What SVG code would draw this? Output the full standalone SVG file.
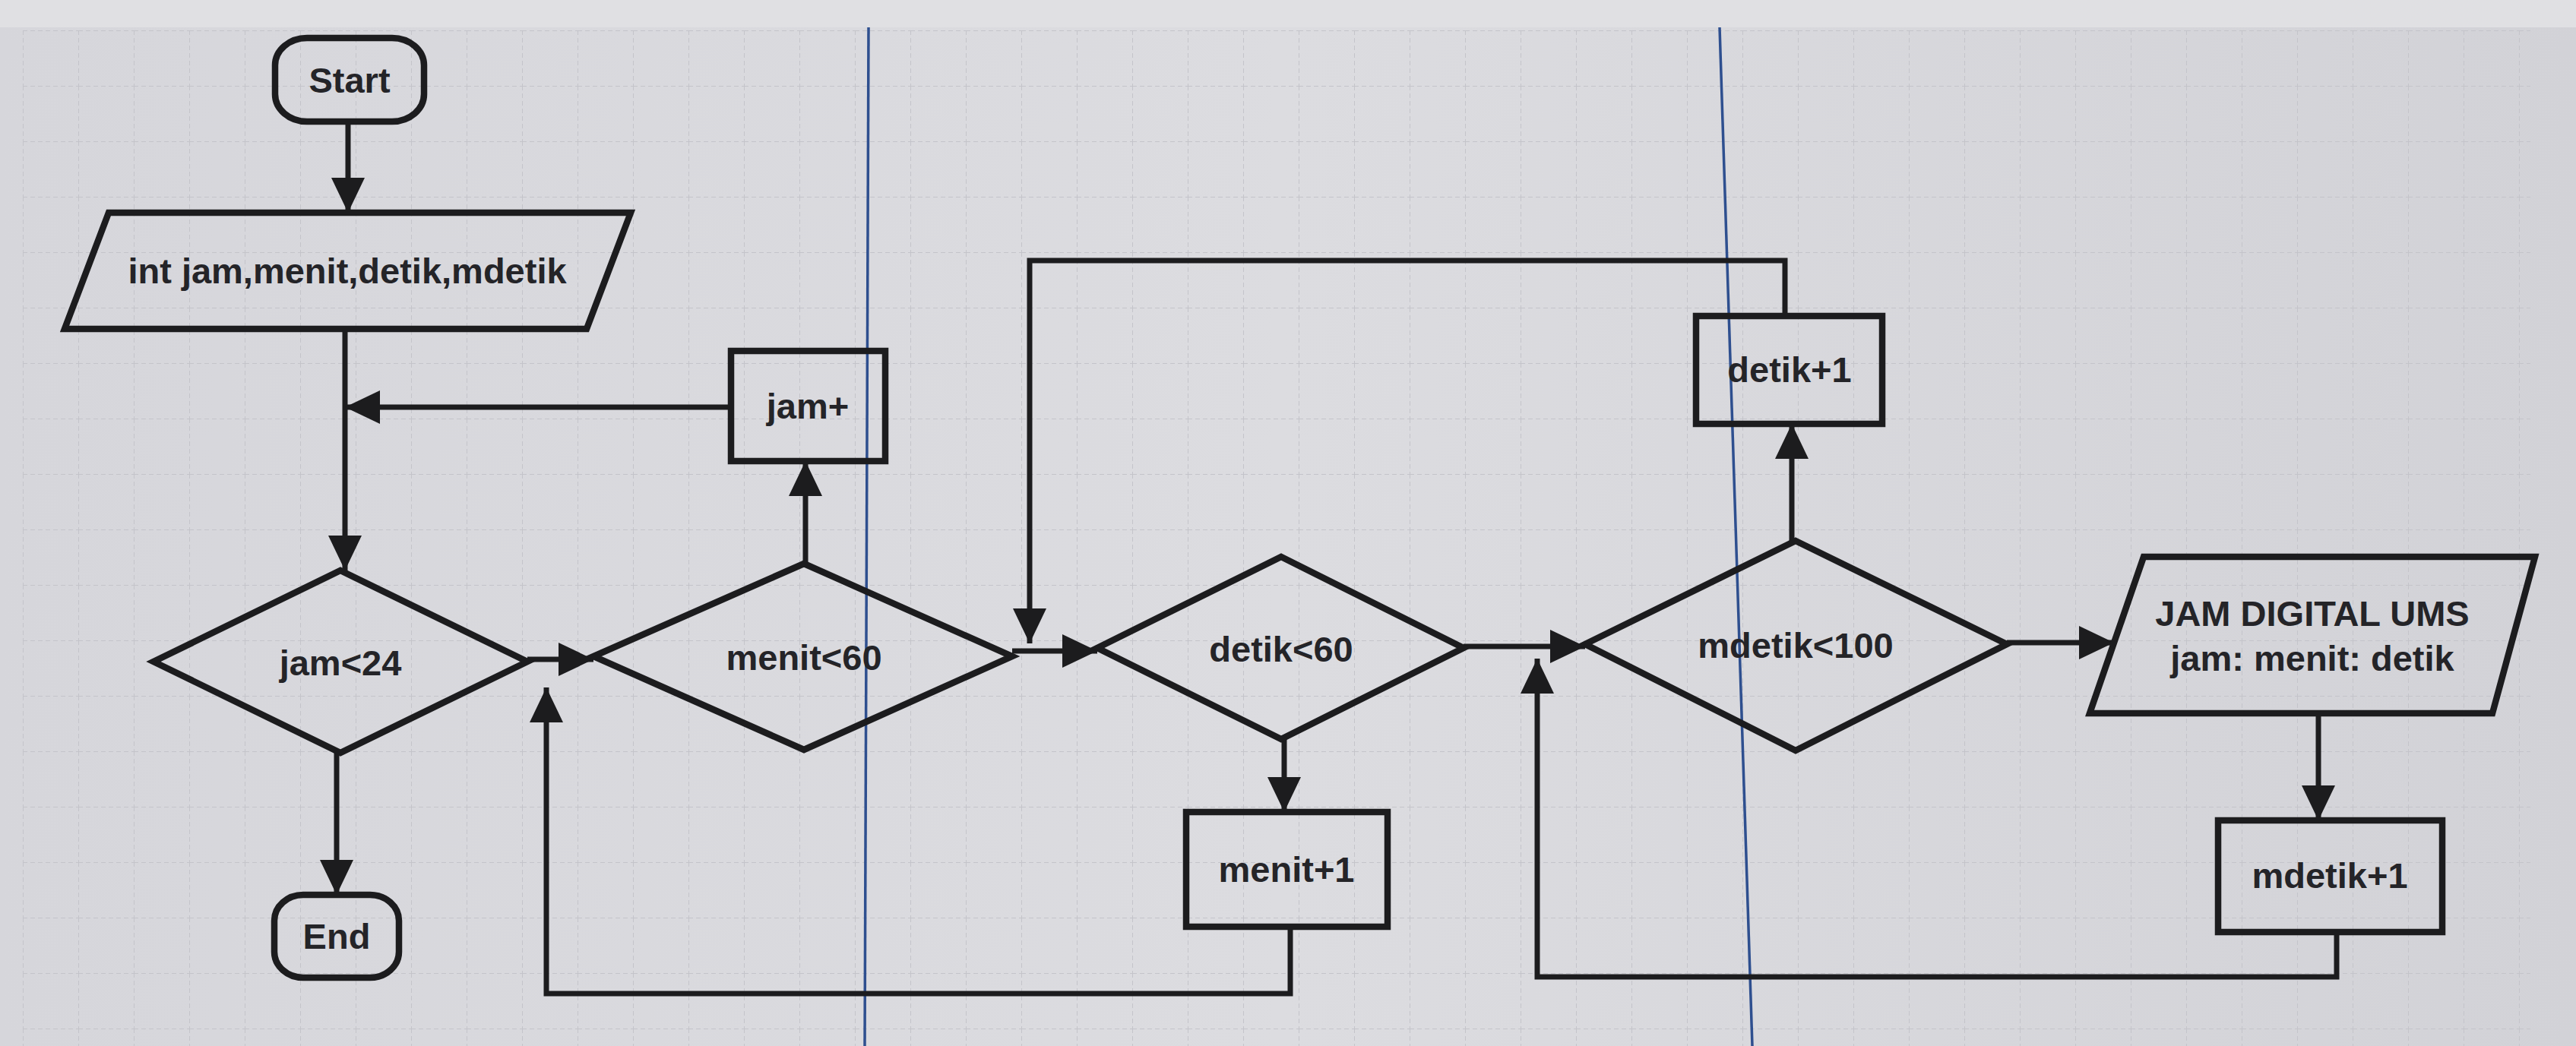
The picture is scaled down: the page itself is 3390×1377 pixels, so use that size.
<svg xmlns="http://www.w3.org/2000/svg" width="3390" height="1377" viewBox="0 0 3390 1377">
<style>
.shape{fill:none;stroke:#1c1c1e;stroke-width:8.5;stroke-linejoin:miter}
.conn{fill:none;stroke:#1c1c1e;stroke-width:7}
.lbl{font-family:"Liberation Sans",Arial,sans-serif;font-weight:bold;font-size:47px;fill:#242428;text-anchor:middle}
.blue{stroke:#2e4f8f;stroke-width:3.5;fill:none}
</style>
<defs>
<linearGradient id="paper" x1="0" y1="0" x2="1" y2="0">
<stop offset="0" stop-color="#d6d6db"/>
<stop offset="0.5" stop-color="#dcdce0"/>
<stop offset="1" stop-color="#d2d2d7"/>
</linearGradient>
<pattern id="grid" width="73" height="73" patternUnits="userSpaceOnUse" x="30" y="40">
<path d="M0,0 H73 M0,0 V73" fill="none" stroke="#c4c4ca" stroke-width="2" stroke-dasharray="6 4"/>
</pattern>
<marker id="arr" markerUnits="userSpaceOnUse" markerWidth="46" markerHeight="46" viewBox="0 0 46 46" refX="46" refY="23" orient="auto">
<path d="M0,1 L46,23 L0,45 z" fill="#1c1c1e"/>
</marker>
</defs>
<rect x="0" y="0" width="3390" height="1377" fill="url(#paper)"/>
<rect x="30" y="40" width="3300" height="1337" fill="url(#grid)"/>
<rect x="0" y="0" width="3390" height="36" fill="#e0e0e3"/>
<line class="blue" x1="1143" y1="36" x2="1138" y2="1377"/>
<line class="blue" x1="2263" y1="36" x2="2306" y2="1377"/>

<g id="connectors">
<path class="conn" d="M458,160 V280" marker-end="url(#arr)"/>
<path class="conn" d="M454,433 V751" marker-end="url(#arr)"/>
<path class="conn" d="M962,536 H454" marker-end="url(#arr)"/>
<path class="conn" d="M443,991 V1178" marker-end="url(#arr)"/>
<path class="conn" d="M694,868 H781" marker-end="url(#arr)"/>
<path class="conn" d="M1060,742 V607" marker-end="url(#arr)"/>
<path class="conn" d="M1698,1220 V1308 H719 V905" marker-end="url(#arr)"/>
<path class="conn" d="M1332,857 H1444" marker-end="url(#arr)"/>
<path class="conn" d="M2349,416 V343 H1355 V847" marker-end="url(#arr)"/>
<path class="conn" d="M1690,973 V1069" marker-end="url(#arr)"/>
<path class="conn" d="M1926,851 H2086" marker-end="url(#arr)"/>
<path class="conn" d="M2358,712 V558" marker-end="url(#arr)"/>
<path class="conn" d="M2641,846 H2782" marker-end="url(#arr)"/>
<path class="conn" d="M3051,939 V1080" marker-end="url(#arr)"/>
<path class="conn" d="M3075,1227 V1286 H2023 V867" marker-end="url(#arr)"/>
</g>

<g id="start">
<rect class="shape" x="362" y="50" width="196" height="110" rx="42" ry="36"/>
<text class="lbl" x="460" y="122" font-size="48">Start</text>
</g>
<g id="declare">
<polygon class="shape" points="143,280 830,280 772,433 85,433"/>
<text class="lbl" x="457" y="373">int jam,menit,detik,mdetik</text>
</g>
<g id="jam-plus">
<rect class="shape" x="962" y="462" width="203" height="145"/>
<text class="lbl" x="1063" y="551">jam+</text>
</g>
<g id="jam-check">
<polygon class="shape" points="448,751 694,871 448,991 202,871"/>
<text class="lbl" x="448" y="889">jam&lt;24</text>
</g>
<g id="end">
<rect class="shape" x="361" y="1178" width="164" height="109" rx="38" ry="34"/>
<text class="lbl" x="443" y="1249">End</text>
</g>
<g id="menit-check">
<polygon class="shape" points="1058,742 1332,864 1058,987 781,864"/>
<text class="lbl" x="1058" y="882">menit&lt;60</text>
</g>
<g id="detik-check">
<polygon class="shape" points="1686,733 1926,853 1686,973 1444,853"/>
<text class="lbl" x="1686" y="871">detik&lt;60</text>
</g>
<g id="menit-plus">
<rect class="shape" x="1561" y="1069" width="265" height="151"/>
<text class="lbl" x="1693" y="1161">menit+1</text>
</g>
<g id="mdetik-check">
<polygon class="shape" points="2363,712 2641,848 2363,988 2086,848"/>
<text class="lbl" x="2363" y="866">mdetik&lt;100</text>
</g>
<g id="detik-plus">
<rect class="shape" x="2232" y="416" width="245" height="142"/>
<text class="lbl" x="2355" y="503">detik+1</text>
</g>
<g id="output">
<polygon class="shape" points="2821,733 3336,733 3280,939 2750,939"/>
<text class="lbl" x="3043" y="824" font-size="44">JAM DIGITAL UMS</text>
<text class="lbl" x="3043" y="883" font-size="44">jam: menit: detik</text>
</g>
<g id="mdetik-plus">
<rect class="shape" x="2919" y="1080" width="295" height="147"/>
<text class="lbl" x="3066" y="1169">mdetik+1</text>
</g>
</svg>
